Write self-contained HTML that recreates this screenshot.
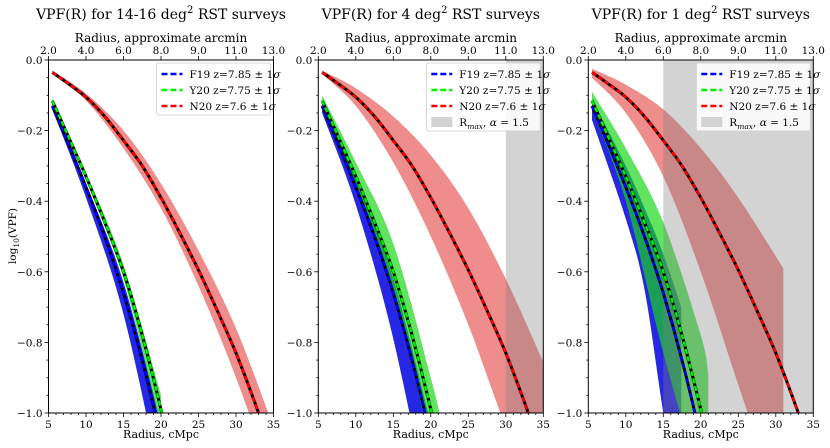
<!DOCTYPE html>
<html><head><meta charset="utf-8"><style>
html,body{margin:0;padding:0;background:#fff;width:830px;height:448px;overflow:hidden;}
svg{display:block;font-family:"DejaVu Serif","Liberation Serif",serif;}
</style></head><body>
<svg id="chart" width="830" height="448" viewBox="0 0 830 448" xmlns="http://www.w3.org/2000/svg"></svg>
<script>
// ---- data ----
const xTicks = [5,10,15,20,25,30,35];
const topTickLabels = ["2.0","4.0","6.0","8.0","9.0","11.0","13.0"];
const yTicks = [0,-0.2,-0.4,-0.6,-0.8,-1.0];
const yTickLabels = ["0.0","\u22120.2","\u22120.4","\u22120.6","\u22120.8","\u22121.0"];
const titles = ["VPF(R) for 14-16 deg","VPF(R) for 4 deg","VPF(R) for 1 deg"];
const seriesNames = ["F19 z=7.85 \u00b1 1","Y20 z=7.75 \u00b1 1","N20 z=7.6 \u00b1 1"];
const rmaxStart = [null, 30, 15];

// central curves (shared)
const cR = [5.5,7.5,10,12.5,15,17.5,20,22.5,25,27.5,30,32.5,35];
const f19Central = [-0.13,-0.23,-0.36,-0.5,-0.66,-0.85,-1.07,-1.3,-1.55,-1.8,-2.05,-2.3,-2.55];
const y20Central = [-0.115,-0.21,-0.33,-0.46,-0.6,-0.78,-0.99,-1.22,-1.46,-1.7,-1.95,-2.2,-2.45];
const n20Central = [-0.035,-0.065,-0.105,-0.16,-0.228,-0.3,-0.39,-0.49,-0.595,-0.71,-0.83,-0.97,-1.12];

// bands panel 1
const p1F19R = [5.5,10,15,20];
const p1F19Hi = [-0.125,-0.35,-0.63,-1.03];
const p1F19Lo = [-0.14,-0.39,-0.72,-1.2];
const p1Y20R = [5.5,10,15,20];
const p1Y20Hi = [-0.11,-0.32,-0.58,-0.95];
const p1Y20Lo = [-0.12,-0.34,-0.62,-1.04];
const p1N20R = [5.5,10,15,20,25,30,35];
const p1N20Hi = [-0.03,-0.095,-0.2,-0.35,-0.54,-0.76,-1.04];
const p1N20Lo = [-0.04,-0.115,-0.25,-0.42,-0.64,-0.9,-1.2];
// bands panel 2
const p2F19R = [5.5,10,15,20];
const p2F19Hi = [-0.12,-0.34,-0.62,-1.03];
const p2F19Lo = [-0.15,-0.41,-0.79,-1.3];
const p2Y20R = [5.5,10,15,20,22];
const p2Y20Hi = [-0.1,-0.29,-0.52,-0.9,-1.08];
const p2Y20Lo = [-0.12,-0.35,-0.65,-1.1,-1.3];
const p2N20R = [5.5,10,15,20,25,30,35];
const p2N20Hi = [-0.03,-0.08,-0.16,-0.27,-0.42,-0.62,-0.855];
const p2N20Lo = [-0.04,-0.13,-0.29,-0.5,-0.75,-1.04,-1.3];
// bands panel 3
const p3F19R = [5.5,10,12.5,15,17.4];
const p3F19Hi = [-0.11,-0.3,-0.42,-0.55,-0.7];
const p3F19Lo = [-0.17,-0.45,-0.65,-1.0,-1.3];
const p3Y20R = [5.5,10,15,20,21];
const p3Y20Hi = [-0.09,-0.25,-0.46,-0.78,-0.89];
const p3Y20Lo = [-0.14,-0.4,-0.83,-1.2,-1.3];
const p3N20R = [5.5,10,15,20,25,31];
const p3N20Hi = [-0.025,-0.07,-0.14,-0.25,-0.39,-0.59];
const p3N20Lo = [-0.05,-0.15,-0.33,-0.6,-0.92,-1.3];

const bands = [
  [[p1F19R,p1F19Hi,p1F19Lo],[p1Y20R,p1Y20Hi,p1Y20Lo],[p1N20R,p1N20Hi,p1N20Lo]],
  [[p2F19R,p2F19Hi,p2F19Lo],[p2Y20R,p2Y20Hi,p2Y20Lo],[p2N20R,p2N20Hi,p2N20Lo]],
  [[p3F19R,p3F19Hi,p3F19Lo],[p3Y20R,p3Y20Hi,p3Y20Lo],[p3N20R,p3N20Hi,p3N20Lo]]
];
const centrals = [f19Central,y20Central,n20Central];

// ---- drawing ----
const NS="http://www.w3.org/2000/svg";
const svg=document.getElementById('chart');
function mk(tag,attrs,parent){const e=document.createElementNS(NS,tag);for(const k in attrs)e.setAttribute(k,attrs[k]);(parent||svg).appendChild(e);return e;}
function smooth(pts,start){
  let d=(start?'M':'L')+pts[0][0].toFixed(1)+','+pts[0][1].toFixed(1);
  for(let i=0;i<pts.length-1;i++){
    const p0=pts[Math.max(0,i-1)],p1=pts[i],p2=pts[i+1],p3=pts[Math.min(pts.length-1,i+2)];
    const c1=[p1[0]+(p2[0]-p0[0])/6,p1[1]+(p2[1]-p0[1])/6];
    const c2=[p2[0]-(p3[0]-p1[0])/6,p2[1]-(p3[1]-p1[1])/6];
    d+='C'+c1[0].toFixed(1)+','+c1[1].toFixed(1)+' '+c2[0].toFixed(1)+','+c2[1].toFixed(1)+' '+p2[0].toFixed(1)+','+p2[1].toFixed(1);
  }
  return d;
}
const panelsX0=[48.5,318.3,588.3], PW=225, Y0=60, Y1=413;
const bandFill=["rgba(0,0,225,0.85)","rgba(20,215,20,0.68)","rgba(225,45,45,0.55)"];
const lineCol=["#0000ff","#00ee00","#ff0000"];
const defs=mk('defs',{});

panelsX0.forEach((x0,p)=>{
  const sx=r=>x0+(r-5)/30*PW;
  const sy=v=>Y0+(-v)*(Y1-Y0);
  const g=mk('g',{});
  
  
  const cp=mk('clipPath',{id:'clip'+p},defs);
  mk('rect',{x:x0,y:Y0,width:PW,height:Y1-Y0},cp);
  const plot=mk('g',{'clip-path':'url(#clip'+p+')'},g);
  bands[p].forEach((b,i)=>{
    const [R,hi,lo]=b;
    const top=R.map((r,j)=>[sx(r),sy(hi[j])]);
    const bot=R.map((r,j)=>[sx(r),sy(lo[j])]).reverse();
    const d=smooth(top,true)+smooth(bot,false)+'Z';
    const e=mk('path',{d:d,fill:bandFill[i]},plot);
    
    
  });
  if(rmaxStart[p]!==null){
    const r=mk('rect',{x:sx(rmaxStart[p]),y:Y0,width:sx(35)-sx(rmaxStart[p]),height:Y1-Y0,fill:'rgba(128,128,128,0.35)'},plot);
    
    
  }
  centrals.forEach((c,i)=>{
    const d=smooth(cR.map((r,j)=>[sx(r),sy(c[j])]),true);
    mk('path',{d:d,fill:'none',stroke:'#000','stroke-width':3},plot);
    const e=mk('path',{d:d,fill:'none',stroke:lineCol[i],'stroke-width':2.4,'stroke-dasharray':'5,2.6'},plot);
    
    
  });
  mk('rect',{x:x0,y:Y0,width:PW,height:Y1-Y0,fill:'none',stroke:'#000','stroke-width':1},g);
  for(let r=5;r<=35;r++){
    const major=(r%5===0);
    mk('line',{x1:sx(r),x2:sx(r),y1:Y1,y2:Y1+(major?4:2),stroke:'#000','stroke-width':0.8},g);
  }
  xTicks.forEach((t,i)=>{
    const e=mk('text',{x:sx(t),y:Y1+15,'text-anchor':'middle','font-size':10.5},g);e.textContent=t;
    mk('line',{x1:sx(t),x2:sx(t),y1:Y0,y2:Y0-4,stroke:'#000','stroke-width':0.8},g);
    const tt=mk('text',{x:sx(t),y:Y0-6,'text-anchor':'middle','font-size':10.5},g);tt.textContent=topTickLabels[i];
  });
  for(let k=0;k<=20;k++){
    const v=-k*0.05;const major=(k%4===0);
    mk('line',{x1:x0,x2:x0-(major?4:2),y1:sy(v),y2:sy(v),stroke:'#000','stroke-width':0.8},g);
  }
  yTicks.forEach((t,i)=>{
    const e=mk('text',{x:x0-6,y:sy(t)+4,'text-anchor':'end','font-size':10.5},g);e.textContent=yTickLabels[i];
  });
  const xl=mk('text',{x:x0+PW/2,y:438,'text-anchor':'middle','font-size':11},g);xl.textContent='Radius, cMpc';
  
  const tl=mk('text',{x:x0+PW/2,y:42,'text-anchor':'middle','font-size':12},g);tl.textContent='Radius, approximate arcmin';
  
  const ti=mk('text',{x:x0+PW/2,y:19,'text-anchor':'middle','font-size':14},g);
  
  ti.appendChild(document.createTextNode(titles[p]));
  const sup=mk('tspan',{dy:-6,'font-size':10},ti);sup.textContent='2';
  const rest=mk('tspan',{dy:6},ti);rest.textContent=' RST surveys';
  const n=rmaxStart[p]===null?3:4;
  const lx=x0+PW-117, ly=Y0+3, lw=114, lh=n*16+4;
  const lg=mk('g',{},g);
  
  mk('rect',{x:lx,y:ly,width:lw,height:lh,fill:'rgba(255,255,255,0.85)',stroke:'#ccc','stroke-width':0.8,rx:2},lg);
  seriesNames.forEach((s,i)=>{
    const yy=ly+11+i*16;
    mk('line',{x1:lx+5,x2:lx+26,y1:yy,y2:yy,stroke:lineCol[i],'stroke-width':2.4,'stroke-dasharray':'6,3'},lg);
    const t=mk('text',{x:lx+33,y:yy+4,'font-size':10.5},lg);
    
    t.appendChild(document.createTextNode(s));
    const si=mk('tspan',{'font-style':'italic'},t);si.textContent='\u03c3';
  });
  if(n===4){
    const yy=ly+11+3*16;
    mk('rect',{x:lx+5,y:yy-5,width:21,height:10,fill:'#d3d3d3'},lg);
    const t=mk('text',{x:lx+33,y:yy+4,'font-size':10.5},lg);
    
    t.appendChild(document.createTextNode('R'));
    const sb=mk('tspan',{dy:3,'font-size':7.5,'font-style':'italic'},t);sb.textContent='max';
    const r2=mk('tspan',{dy:-3},t);r2.textContent=', ';
    const al=mk('tspan',{'font-style':'italic'},t);al.textContent='\u03b1';
    const r3=mk('tspan',{},t);r3.textContent=' = 1.5';
  }
});
const yl=mk('text',{x:0,y:0,'text-anchor':'middle','font-size':10.5,transform:'translate(16,236) rotate(-90)'});

yl.appendChild(document.createTextNode('log'));
const s10=mk('tspan',{dy:3,'font-size':7.5},yl);s10.textContent='10';
const sv=mk('tspan',{dy:-3},yl);sv.textContent='(VPF)';
</script>
</body></html>
